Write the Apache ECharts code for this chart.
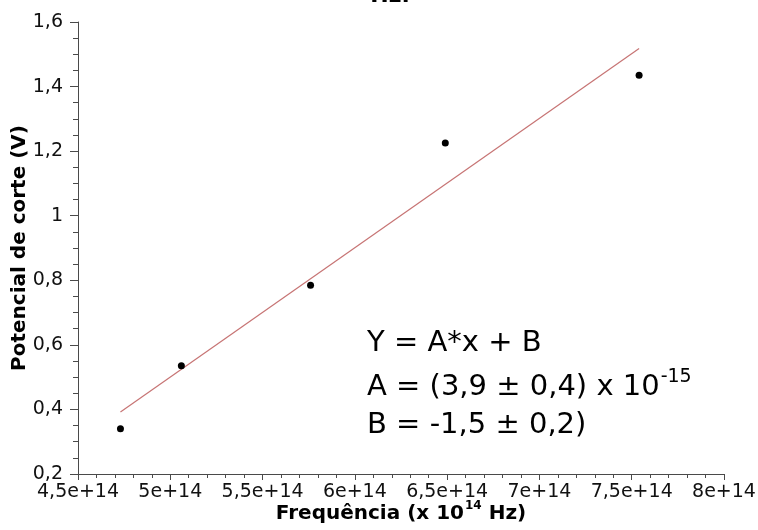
<!DOCTYPE html>
<html>
<head>
<meta charset="utf-8">
<script src="https://cdn.jsdelivr.net/npm/echarts@6/dist/echarts.min.js"></script>
<style>
  html, body { margin: 0; padding: 0; background: #fff; }
  #chart { width: 758px; height: 530px; }
</style>
</head>
<body>
<div id="chart"></div>
<script>
// Measured points: light frequency (Hz) vs. stopping potential (V)
const freqHz = [4.73e14, 5.06e14, 5.76e14, 6.49e14, 7.54e14];
const cutoffV = [0.34, 0.535, 0.785, 1.225, 1.435];

// Ends of the fitted straight line
const fitFreqHz = [4.73e14, 7.54e14];
const fitV = [0.392, 1.518];

// Tick labels (comma as decimal separator)
const xTickLabels = ['4,5e+14', '5e+14', '5,5e+14', '6e+14', '6,5e+14', '7e+14', '7,5e+14', '8e+14'];
const yTickLabels = ['0,2', '0,4', '0,6', '0,8', '1', '1,2', '1,4', '1,6'];

const FONT = 'DejaVu Sans';
const AXIS_COLOR = '#4a4a4a';

const chart = echarts.init(document.getElementById('chart'), null, { renderer: 'canvas' });

const points = freqHz.map((f, i) => [f, cutoffV[i]]);
const fitLine = fitFreqHz.map((f, i) => [f, fitV[i]]);

chart.setOption({
  animation: false,
  backgroundColor: '#ffffff',
  grid: { left: 78, right: 34, top: 22, bottom: 56, containLabel: false, outerBoundsMode: 'none' },
  xAxis: {
    type: 'value',
    min: 4.5e14,
    max: 8e14,
    interval: 0.5e14,
    name: '{b|Frequência (x 10}{s|14}{b| Hz)}',
    nameLocation: 'middle',
    nameGap: 26,
    nameMoveOverlap: false,
    nameTextStyle: {
      rich: {
        b: { fontFamily: FONT, fontWeight: 'bold', fontSize: 20, color: '#000', lineHeight: 24, verticalAlign: 'bottom' },
        s: { fontFamily: FONT, fontWeight: 'bold', fontSize: 12, color: '#000', lineHeight: 24, verticalAlign: 'top', padding: [0, 0, 0, 1] }
      }
    },
    axisLine: { lineStyle: { color: AXIS_COLOR, width: 1 } },
    axisTick: { show: true, length: 6, lineStyle: { color: AXIS_COLOR } },
    minorTick: { show: true, splitNumber: 5, length: 4, lineStyle: { color: AXIS_COLOR } },
    splitLine: { show: false },
    minorSplitLine: { show: false },
    axisLabel: {
      fontFamily: FONT,
      fontSize: 19,
      color: '#111',
      margin: 9,
      formatter: (v, i) => xTickLabels[i]
    }
  },
  yAxis: {
    type: 'value',
    min: 0.2,
    max: 1.6,
    interval: 0.2,
    name: 'Potencial de corte (V)',
    nameLocation: 'middle',
    nameGap: 48,
    nameMoveOverlap: false,
    nameTextStyle: { fontFamily: FONT, fontWeight: 'bold', fontSize: 20, color: '#000' },
    axisLine: { show: true, lineStyle: { color: AXIS_COLOR, width: 1 } },
    axisTick: { show: true, length: 8, lineStyle: { color: AXIS_COLOR } },
    minorTick: { show: true, splitNumber: 4, length: 5, lineStyle: { color: AXIS_COLOR } },
    splitLine: { show: false },
    minorSplitLine: { show: false },
    axisLabel: {
      fontFamily: FONT,
      fontSize: 19,
      color: '#111',
      margin: 15,
      formatter: (v, i) => yTickLabels[i]
    }
  },
  series: [
    {
      name: 'ajuste',
      type: 'line',
      data: fitLine,
      symbol: 'none',
      lineStyle: { color: '#c77474', width: 1.2 },
      z: 2
    },
    {
      name: 'medidas',
      type: 'scatter',
      data: points,
      symbol: 'circle',
      symbolSize: 7,
      itemStyle: { color: '#000', opacity: 1 },
      z: 3
    }
  ],
  graphic: [
    {
      type: 'text',
      x: 390,
      y: 7,
      style: { text: 'Hz.', font: 'bold 22px "DejaVu Sans"', fill: '#000', textAlign: 'center', verticalAlign: 'bottom' }
    },
    {
      type: 'text',
      x: 367,
      y: 343,
      style: { text: 'Y = A*x + B', font: '29px "DejaVu Sans"', fill: '#000', verticalAlign: 'middle' }
    },
    {
      type: 'text',
      x: 367,
      y: 385,
      style: {
        text: '{m|A = (3,9 ± 0,4) x 10}{s|-15}',
        verticalAlign: 'middle',
        rich: {
          m: { fontFamily: FONT, fontSize: 29, fill: '#000', color: '#000', lineHeight: 34, verticalAlign: 'bottom' },
          s: { fontFamily: FONT, fontSize: 19, fill: '#000', color: '#000', lineHeight: 34, verticalAlign: 'top', padding: [0, 0, 0, 1] }
        }
      }
    },
    {
      type: 'text',
      x: 367,
      y: 425,
      style: { text: 'B = -1,5 ± 0,2)', font: '29px "DejaVu Sans"', fill: '#000', verticalAlign: 'middle' }
    }
  ]
});
</script>
</body>
</html>
